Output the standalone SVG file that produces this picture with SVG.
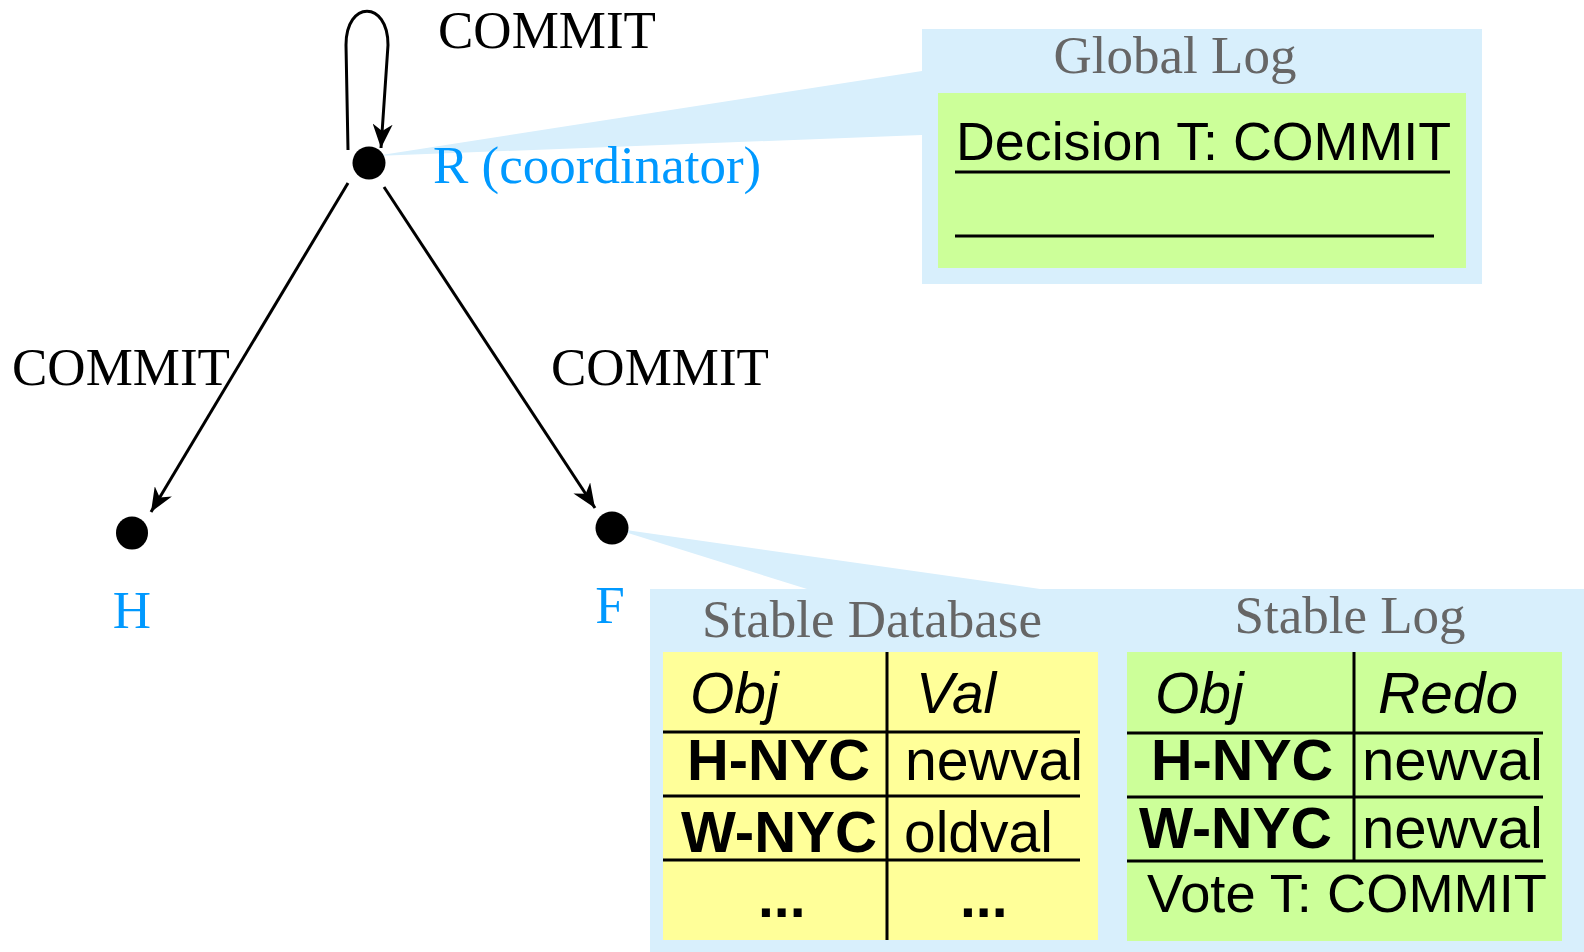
<svg xmlns="http://www.w3.org/2000/svg" width="1584" height="952" viewBox="0 0 1584 952">
<style>
.serif{font-family:"Liberation Serif","Times New Roman",serif;font-size:53px}
.lbl{fill:#000}
.node{fill:#0099ff}
.title{fill:#666666}
.sans{font-family:"Liberation Sans",Arial,sans-serif;font-size:57px;fill:#000}
.s54{font-size:54px}
.it{font-style:italic}
.b{font-weight:bold}
.edge{fill:none;stroke:#000;stroke-width:3}
.rule{stroke:#000;stroke-width:3}
.callout{fill:#d8effc}
.green{fill:#ccff99}
.yellow{fill:#ffff99}
</style>
<defs>
<marker id="arr" markerUnits="userSpaceOnUse" markerWidth="26" markerHeight="20" refX="24" refY="10" orient="auto" viewBox="0 0 26 20">
<path d="M0,0 L24,10 L0,20 L7,10 z" fill="#000"/>
</marker>
</defs>

<g id="global-log">
<polygon class="callout" points="375,156 922,71 922,135"/>
<rect class="callout" x="922" y="29" width="560" height="255"/>
<text class="serif title" x="1175" y="73" text-anchor="middle">Global Log</text>
<rect class="green" x="938" y="93" width="528" height="175"/>
<text class="sans s54" x="956" y="160" textLength="495" lengthAdjust="spacingAndGlyphs">Decision T: COMMIT</text>
<line class="rule" x1="955" y1="172" x2="1450" y2="172"/>
<line class="rule" x1="955" y1="236" x2="1434" y2="236"/>
</g>

<g id="stable-storage">
<polygon class="callout" points="612,528 807,589 1040,589"/>
<rect class="callout" x="650" y="589" width="934" height="363"/>
<text class="serif title" x="872" y="637" text-anchor="middle">Stable Database</text>
<text class="serif title" x="1350" y="633" text-anchor="middle">Stable Log</text>
</g>

<g id="stable-database">
<rect class="yellow" x="663" y="652" width="435" height="288"/>
<line class="rule" x1="887" y1="652" x2="887" y2="940"/>
<line class="rule" x1="663" y1="732" x2="1080" y2="732"/>
<line class="rule" x1="663" y1="796" x2="1080" y2="796"/>
<line class="rule" x1="663" y1="860" x2="1080" y2="860"/>
<text class="sans it" x="690" y="713">Obj</text>
<text class="sans it" x="916" y="713">Val</text>
<text class="sans b" x="687" y="780" textLength="183" lengthAdjust="spacingAndGlyphs">H-NYC</text>
<text class="sans" x="905" y="780" textLength="178" lengthAdjust="spacingAndGlyphs">newval</text>
<text class="sans b" x="681" y="852" textLength="196" lengthAdjust="spacingAndGlyphs">W-NYC</text>
<text class="sans" x="904" y="852">oldval</text>
<text class="sans b" x="758" y="917">...</text>
<text class="sans b" x="960" y="917">...</text>
</g>

<g id="stable-log">
<rect class="green" x="1127" y="652" width="435" height="289"/>
<line class="rule" x1="1354" y1="652" x2="1354" y2="860"/>
<line class="rule" x1="1127" y1="733" x2="1543" y2="733"/>
<line class="rule" x1="1127" y1="797" x2="1543" y2="797"/>
<line class="rule" x1="1127" y1="861" x2="1543" y2="861"/>
<text class="sans it" x="1155" y="713">Obj</text>
<text class="sans it" x="1378" y="713" textLength="140" lengthAdjust="spacingAndGlyphs">Redo</text>
<text class="sans b" x="1151" y="780" textLength="182" lengthAdjust="spacingAndGlyphs">H-NYC</text>
<text class="sans" x="1362" y="780" textLength="181" lengthAdjust="spacingAndGlyphs">newval</text>
<text class="sans b" x="1139" y="848" textLength="193" lengthAdjust="spacingAndGlyphs">W-NYC</text>
<text class="sans" x="1362" y="848" textLength="181" lengthAdjust="spacingAndGlyphs">newval</text>
<text class="sans s54" x="1147" y="912" textLength="400" lengthAdjust="spacingAndGlyphs">Vote T: COMMIT</text>
</g>

<g id="connectors">
<path class="edge" d="M348,150 L346,45 C346,0 388,0 388,45 L381,148" marker-end="url(#arr)"/>
<path class="edge" d="M348,183 L151,512" marker-end="url(#arr)"/>
<path class="edge" d="M384,187 L595,508" marker-end="url(#arr)"/>
<text class="serif lbl" x="438" y="48">COMMIT</text>
<text class="serif lbl" x="12" y="385">COMMIT</text>
<text class="serif lbl" x="551" y="385">COMMIT</text>
</g>

<g id="node-R">
<circle cx="369" cy="163" r="16.5" fill="#000"/>
<text class="serif node" x="433" y="183">R (coordinator)</text>
</g>
<g id="node-H">
<ellipse cx="132" cy="533" rx="16" ry="16.5" fill="#000"/>
<text class="serif node" x="132" y="628" text-anchor="middle">H</text>
</g>
<g id="node-F">
<circle cx="612" cy="528" r="16.5" fill="#000"/>
<text class="serif node" x="610" y="623" text-anchor="middle">F</text>
</g>
</svg>
